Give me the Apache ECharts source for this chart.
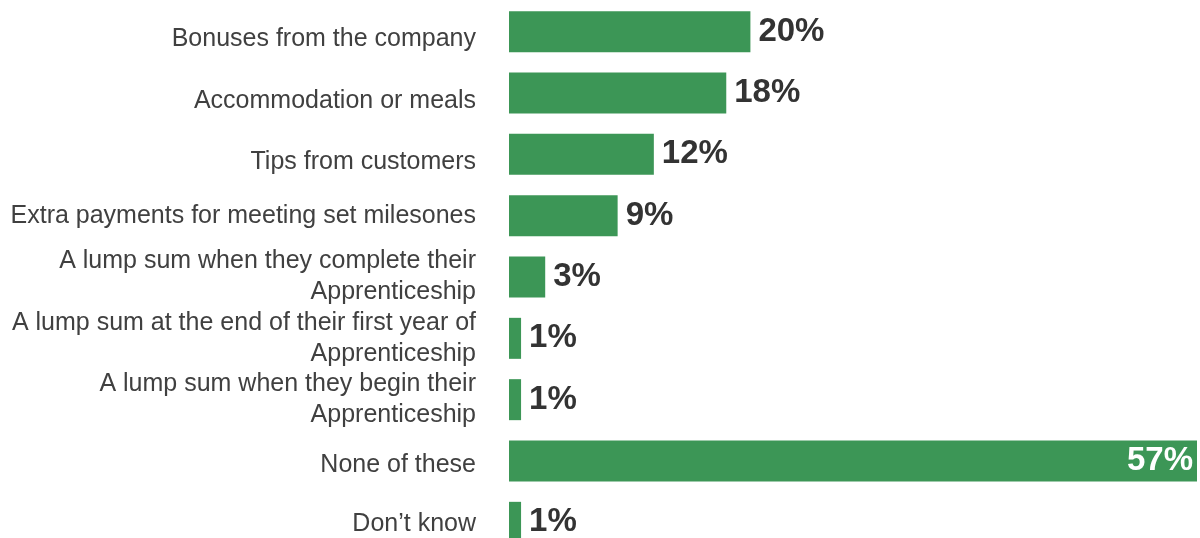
<!DOCTYPE html>
<html>
<head>
<meta charset="utf-8">
<script src="https://cdn.jsdelivr.net/npm/echarts@6/dist/echarts.min.js"></script>
<style>
  html, body { margin: 0; padding: 0; background: #ffffff; overflow: hidden; }
  /* the last row runs past the lower edge of the page, so the canvas is taller than the viewport */
  #chart { width: 1200px; height: 553px; }
</style>
</head>
<body>
<div id="chart"></div>
<script>
// Non-wage extras offered to apprentices (% of employers)
const categories = [
  'Bonuses from the company',
  'Accommodation or meals',
  'Tips from customers',
  'Extra payments for meeting set milesones',
  'A lump sum when they complete their\nApprenticeship',
  'A lump sum at the end of their first year of\nApprenticeship',
  'A lump sum when they begin their\nApprenticeship',
  'None of these',
  'Don\u2019t know'
];
const values = [20, 18, 12, 9, 3, 1, 1, 57, 1];

// Styling: colours, fonts and a small downward nudge (px) for some row labels
const BAR = '#3c9656';
const FONT = 'Liberation Sans, Arial, sans-serif';
const labelNudge = [7, 8, 8, 0, 0, 0, 0, 4, 2];

const maxValue = Math.max(...values);

// one rich style per nudge size; top padding of 2n moves a centred label down by n
const rich = {};
labelNudge.forEach(n => {
  if (n > 0) rich['s' + n] = { padding: [2 * n, 0, 0, 0], fontSize: 25, lineHeight: 31, color: '#404040', fontFamily: FONT };
});

const chart = echarts.init(document.getElementById('chart'), null, { renderer: 'canvas' });

chart.setOption({
  animation: false,
  backgroundColor: '#ffffff',
  grid: { left: 509, right: 3, top: 1, bottom: 0, containLabel: false },
  xAxis: {
    type: 'value',
    min: 0,
    max: maxValue,
    show: false
  },
  yAxis: {
    type: 'category',
    data: categories,
    inverse: true,
    axisLine: { show: false },
    axisTick: { show: false },
    axisLabel: {
      margin: 33,
      color: '#404040',
      fontFamily: FONT,
      fontSize: 25,
      lineHeight: 31,
      align: 'right',
      rich: rich,
      formatter: (value, index) => {
        const n = labelNudge[index];
        return n > 0 ? '{s' + n + '|' + value + '}' : value;
      }
    }
  },
  series: [{
    type: 'bar',
    data: values.map(v => ({
      value: v,
      label: v === maxValue
        ? { position: 'insideRight', distance: 4, color: '#ffffff' }
        : { position: 'right', distance: 8, color: '#333333' }
    })),
    barWidth: 41,
    itemStyle: { color: BAR },
    label: {
      show: true,
      formatter: p => p.value + '%',
      fontFamily: FONT,
      fontWeight: 'bold',
      fontSize: 33
    }
  }]
});
</script>
</body>
</html>
